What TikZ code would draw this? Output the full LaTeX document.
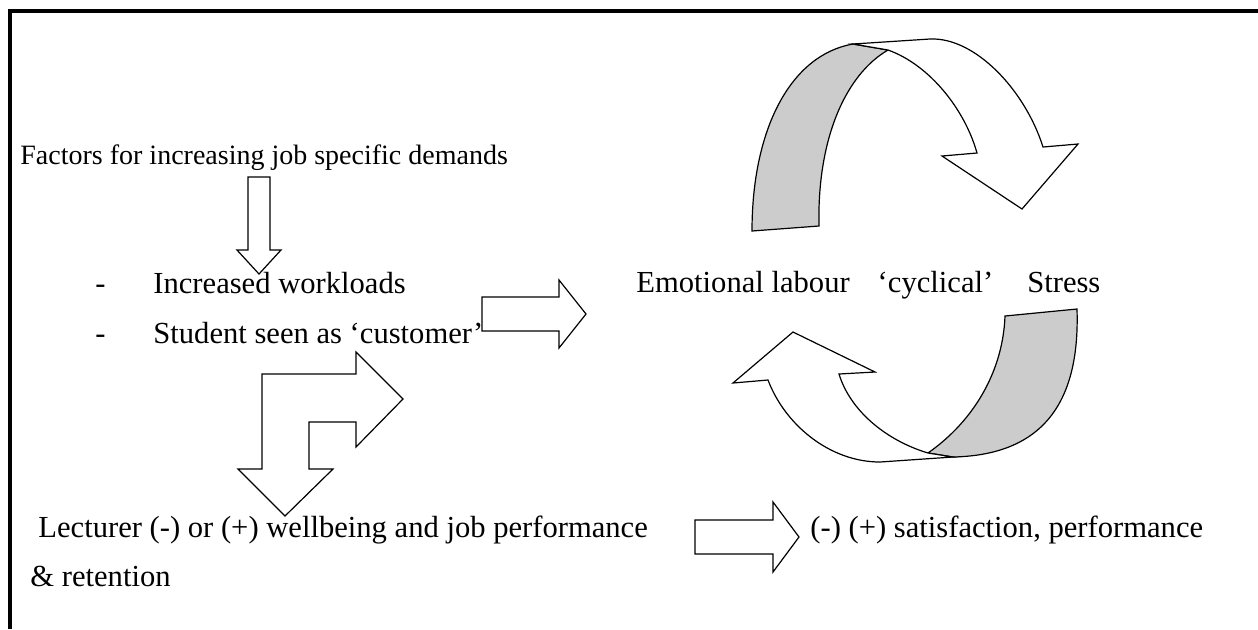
\documentclass[tikz,border=0pt]{standalone}
\usepackage{fontspec}
\setmainfont{Liberation Serif}
\usepackage{tikz}
\usetikzlibrary{positioning}
\tikzset{
	blockarrow/.style={draw=black, line width=0.6pt, fill=white, line join=miter},
	ribbon/.style={draw=black, line width=0.6pt, fill=gray!40},
	txt/.style={anchor=base west, inner sep=0pt, font=\fontsize{15.3}{18}\selectfont}
}

\begin{document}
\begin{tikzpicture}
		[x=0.5pt, y=-0.5pt, inner sep=0pt]
		
		\useasboundingbox (0, 0) rectangle (1258, 629);
		
		% frame --------------------------------------------------
		\draw[line width=2pt]	(9.5, 629) -- (9.5, 10.5) -- (1258, 10.5);
		
		% demands ------------------------------------------------
		\node[txt, font=\fontsize{14}{17}\selectfont] (factors) at (20, 164)
		{Factors for increasing job specific demands};
		
		\draw[blockarrow]	(248, 177) -- (270, 177) -- (270, 250) -- (281, 250)
		-- (259, 274) -- (237, 250) -- (248, 250) -- cycle;
		
		\node[txt] (dasha) at (95, 293) {-};
		\node[txt] (workloads) at (153, 293) {Increased workloads};
		
		\node[txt] (dashb) at (95, 343) {-};
		\node[txt] (customer) at (153, 343) {Student seen as ‘customer’};
		
		% to the cycle -------------------------------------------
		\draw[blockarrow]	(482, 297) -- (559, 297) -- (559, 280) -- (586, 314)
		-- (559, 348) -- (559, 331) -- (482, 331) -- cycle;
		
		\node[txt] (cycle) at (636, 292)
		{Emotional labour\hspace{14pt}‘cyclical’\hspace{17pt}Stress};
		
		% top cyclical arrow -------------------------------------
		\draw[ribbon]	(752, 231) .. controls (752, 130) and (790, 55) .. (853, 44)
		-- (888, 50) .. controls (845, 75) and (817, 140) .. (819, 226) -- cycle;
		
		\draw[blockarrow]	(853, 44) -- (930, 39) .. controls (975, 37) and (1025, 90) .. (1043, 147)
		-- (1078, 144) -- (1022, 209) -- (942, 156) -- (977, 153)
		.. controls (965, 110) and (930, 65) .. (888, 50) -- cycle;
		
		% bottom cyclical arrow ----------------------------------
		\draw[ribbon]	(928, 453) .. controls (975, 420) and (1003, 370) .. (1005, 316)
		-- (1077, 309) .. controls (1080, 400) and (1045, 455) .. (953, 457) -- cycle;
		
		\draw[blockarrow]	(953, 457) -- (880, 462) .. controls (830, 462) and (785, 425) .. (768, 380)
		-- (733, 383) -- (793, 332) -- (875, 372) -- (839, 374)
		.. controls (850, 410) and (885, 440) .. (928, 453) -- cycle;
		
		% bent arrow ---------------------------------------------
		\draw[blockarrow]	(285, 516) -- (238, 469) -- (262, 469) -- (262, 374) -- (356, 374)
		-- (356, 352) -- (403, 399) -- (356, 447) -- (356, 422) -- (309, 422)
		-- (309, 469) -- (333, 469) -- cycle;
		
		% wellbeing ----------------------------------------------
		\node[txt] (lecturer) at (38, 537) {Lecturer (-) or (+) wellbeing and job performance};
		
		\draw[blockarrow]	(695, 520) -- (773, 520) -- (773, 502) -- (799, 537)
		-- (773, 572) -- (773, 554) -- (695, 554) -- cycle;
		
		\node[txt] (outcome) at (810, 537) {(-) (+) satisfaction, performance};
		\node[txt] (retention) at (30, 586) {\& retention};
		\end{tikzpicture}
\end{document}
